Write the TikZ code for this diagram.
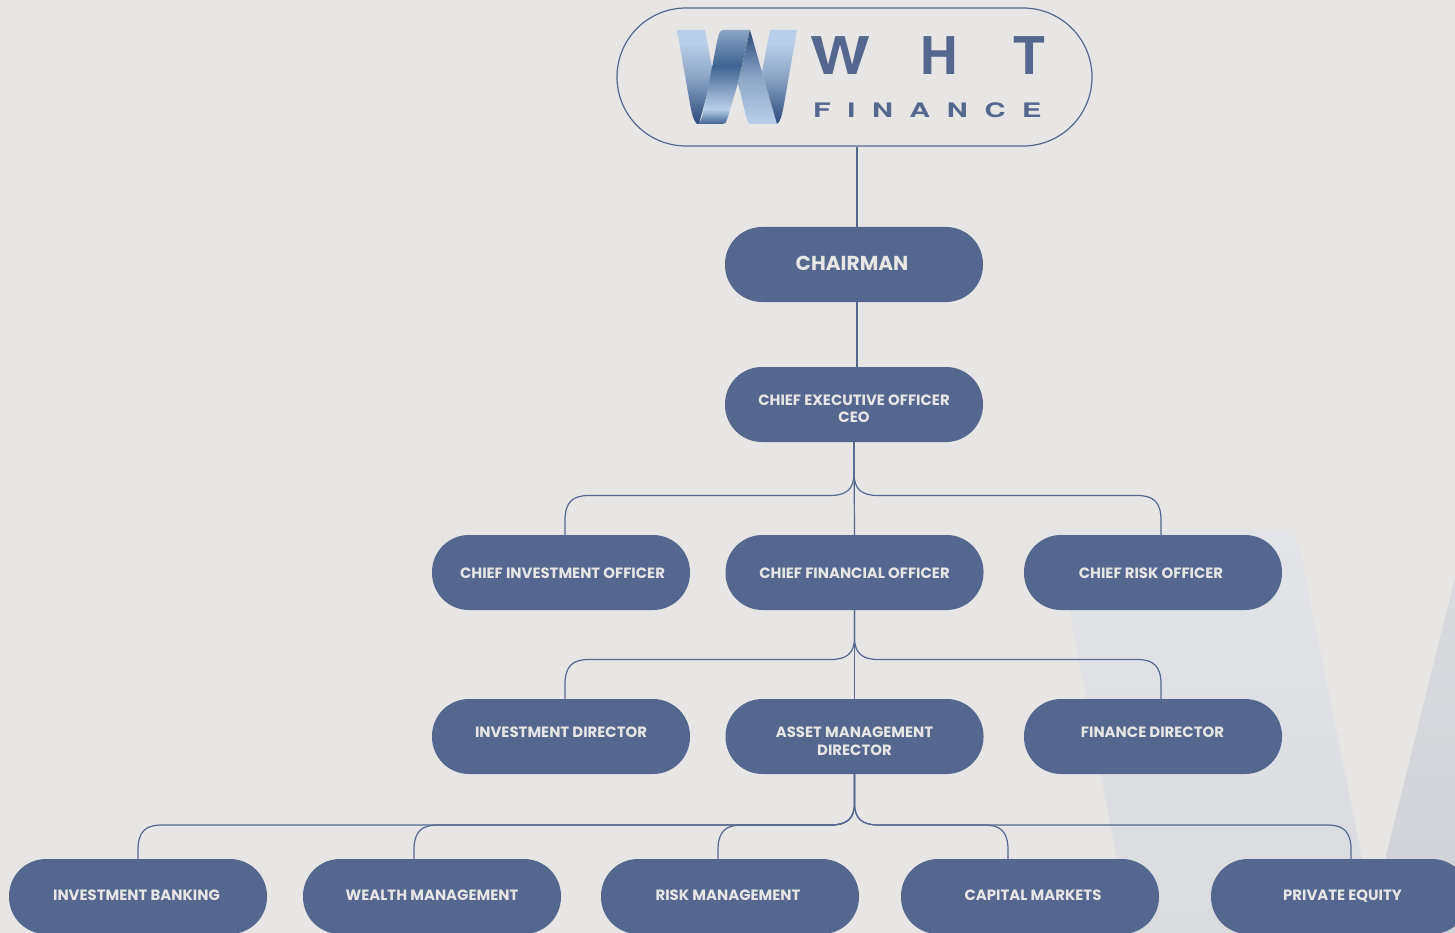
\documentclass[tikz,border=0pt]{standalone}
\usepackage{fontspec}
\setmainfont{Poppins}
\newfontfamily\logofont{TeX Gyre Heros}
\usetikzlibrary{calc}
\definecolor{pagebg}{HTML}{E7E6E4}
\definecolor{navy}{HTML}{54678F}
\definecolor{cream}{HTML}{E7E6E4}
\definecolor{ribL}{HTML}{B8CFEA}
\definecolor{ribM}{HTML}{8BA5C4}
\definecolor{ribD}{HTML}{2B4A7B}
\definecolor{ribS}{HTML}{3F6392}
\definecolor{markLt}{HTML}{E3E4E7}
\definecolor{markLb}{HTML}{D9DBDF}
\definecolor{markDt}{HTML}{D9DBDF}
\definecolor{markDb}{HTML}{CFD1D7}
\pgfdeclareverticalshading{armshade}{100bp}{color(0bp)=(ribD); color(25bp)=(ribD); color(50bp)=(ribM); color(68bp)=(ribL); color(75bp)=(ribL); color(100bp)=(ribL)}
\pgfdeclareverticalshading{riseshade}{100bp}{color(0bp)=(ribS); color(25bp)=(ribS); color(33bp)=(ribL); color(42bp)=(ribM); color(56bp)=(ribS); color(75bp)=(ribM); color(100bp)=(ribM)}
\pgfdeclareverticalshading{fallshade}{100bp}{color(0bp)=(ribL); color(25bp)=(ribL); color(50bp)=(ribM); color(75bp)=(ribD); color(100bp)=(ribD)}
\tikzset{
  x=1pt,y=-1pt,
  pillshape/.style={fill=navy,draw=none,rounded corners=37pt,minimum width=258pt,minimum height=75pt,inner sep=0pt},
  pilltext/.style={text=cream,font=\fontsize{14.9}{17.7}\selectfont\bfseries,inner sep=0pt,align=center},
  capline/.style={text height=12.4pt,text depth=0pt},
  conn/.style={draw=navy,line width=1.2pt},
  logotext/.style={text=navy,inner sep=0pt,anchor=west,text depth=0pt},
}
\newcommand\branch[5]{%
  \draw[conn] let \p1=(#1.south), \p2=([xshift=#5pt]#2.north), \p3=(#3) in
    (\p1) -- (\x1,\y3+22pt) .. controls (\x1,\y3+6pt) and (\x1+#4*8pt,\y3) .. (\x1+#4*24pt,\y3)
    -- (\x2-#4*24pt,\y3) .. controls (\x2-#4*8pt,\y3) and (\x2,\y3-6pt) .. (\x2,\y3-25pt) -- (\p2);}
\begin{document}
\begin{tikzpicture}
\useasboundingbox (0,0) rectangle (1455,933);
\clip (0,0) rectangle (1455,933);
\fill[pagebg] (0,0) rectangle (1455,933);
% watermark
\shade[top color=markLt,bottom color=markLb]
  (1045,530) -- (1282,530) .. controls (1292,530) and (1296,538) .. (1300,550) -- (1377,933) -- (1131,933) -- (1060,560) -- cycle;
\shade[top color=markDt,bottom color=markDb]
  (1455,577) -- (1367,933) -- (1455,933) -- cycle;
% logo pill
\node[draw=navy,line width=1.2pt,fill=none,rounded corners=69pt,minimum width=475pt,minimum height=138pt,inner sep=0pt] (logo) at (854.5,77) {};
% ribbon W
\shade[shading=armshade] (677,30) -- (705,30) -- (713,72) -- (699,124) -- (697,124) .. controls (693,120) and (692,114) .. (690,104) -- cycle;
\shade[shading=riseshade] (723,30) -- (750,30) -- (738,83) -- (727,120) .. controls (726,123) and (725,124) .. (722,124) -- (698,124) .. controls (701,122) and (702,118) .. (704,108) -- (715,52) .. controls (718,36) and (719,30) .. (723,30) -- cycle;
\shade[shading=fallshade] (750,30) -- (762,72) -- (777,124) -- (750,124) .. controls (748,123) and (747,120) .. (746,116) -- (738,83) -- cycle;
\shade[shading=armshade] (770,30) -- (797,30) -- (784,104) .. controls (782,116) and (780,122) .. (777,124) -- (762,72) -- cycle;
\node[logotext,text height=37.5pt,font=\logofont\bfseries\fontsize{52}{52}\selectfont] (wht) at (810,56)
  {\scalebox{1.22}[1]{W}\hspace{50pt}H\hspace{56pt}T};
\node[logotext,text height=14.5pt,font=\logofont\bfseries\fontsize{20}{20}\selectfont] (fin) at (813,110)
  {\scalebox{1.45}[1]{\addfontfeature{LetterSpace=57}FINANCE}};
% pills
\node[pillshape] (chair) at (854,264.5) {};
\node[pillshape] (ceo) at (854,404.5) {};
\node[pillshape] (cio) at (561,572.5) {};
\node[pillshape] (cfo) at (854.5,572.5) {};
\node[pillshape] (cro) at (1153,572.5) {};
\node[pillshape] (idir) at (561,736.5) {};
\node[pillshape] (amd) at (854.5,736.5) {};
\node[pillshape] (fdir) at (1153,736.5) {};
\node[pillshape] (ib) at (138,896.5) {};
\node[pillshape] (wm) at (432,896.5) {};
\node[pillshape] (rm) at (730,896.5) {};
\node[pillshape] (cm) at (1030,896.5) {};
\node[pillshape] (pe) at (1340,896.5) {};
% labels
\node[pilltext,text height=14pt,text depth=0pt,font=\fontsize{20.2}{24}\selectfont\bfseries] (chair-t) at (852,263) {CHAIRMAN};
\node[pilltext] (ceo-t) at (854,408.8) {CHIEF EXECUTIVE OFFICER\\CEO};
\node[pilltext,capline] (cio-t) at (562.5,572.5) {CHIEF INVESTMENT OFFICER};
\node[pilltext,capline] (cfo-t) at (854.5,572.5) {CHIEF FINANCIAL OFFICER};
\node[pilltext,capline] (cro-t) at (1151,572.5) {CHIEF RISK OFFICER};
\node[pilltext,capline] (idir-t) at (561,731.5) {INVESTMENT DIRECTOR};
\node[pilltext] (amd-t) at (854.5,741) {ASSET MANAGEMENT\\DIRECTOR};
\node[pilltext,capline] (fdir-t) at (1152.5,731.5) {FINANCE DIRECTOR};
\node[pilltext,capline] (ib-t) at (136.5,894.5) {INVESTMENT BANKING};
\node[pilltext,capline] (wm-t) at (432,894.5) {WEALTH MANAGEMENT};
\node[pilltext,capline] (rm-t) at (728,894.5) {RISK MANAGEMENT};
\node[pilltext,capline] (cm-t) at (1033,894.5) {CAPITAL MARKETS};
\node[pilltext,capline] (pe-t) at (1342.5,894.5) {PRIVATE EQUITY};
% connectors
\draw[conn] ([xshift=2.5pt]logo.south) -- ([xshift=3pt]chair.north);
\draw[conn] ([xshift=3pt]chair.south) -- ([xshift=3pt]ceo.north);
\coordinate (busA) at (0,495.5);
\coordinate (busB) at (0,659.5);
\coordinate (busC) at (0,825);
\draw[conn] (ceo.south) -- (cfo.north);
\branch{ceo}{cio}{busA}{-1}{4}
\branch{ceo}{cro}{busA}{1}{8}
\draw[conn] (cfo.south) -- (amd.north);
\branch{cfo}{idir}{busB}{-1}{4}
\branch{cfo}{fdir}{busB}{1}{8}
\branch{amd}{ib}{busC}{-1}{0}
\branch{amd}{wm}{busC}{-1}{-18}
\branch{amd}{rm}{busC}{-1}{-12}
\branch{amd}{cm}{busC}{1}{-22}
\branch{amd}{pe}{busC}{1}{11}
\end{tikzpicture}
\end{document}
